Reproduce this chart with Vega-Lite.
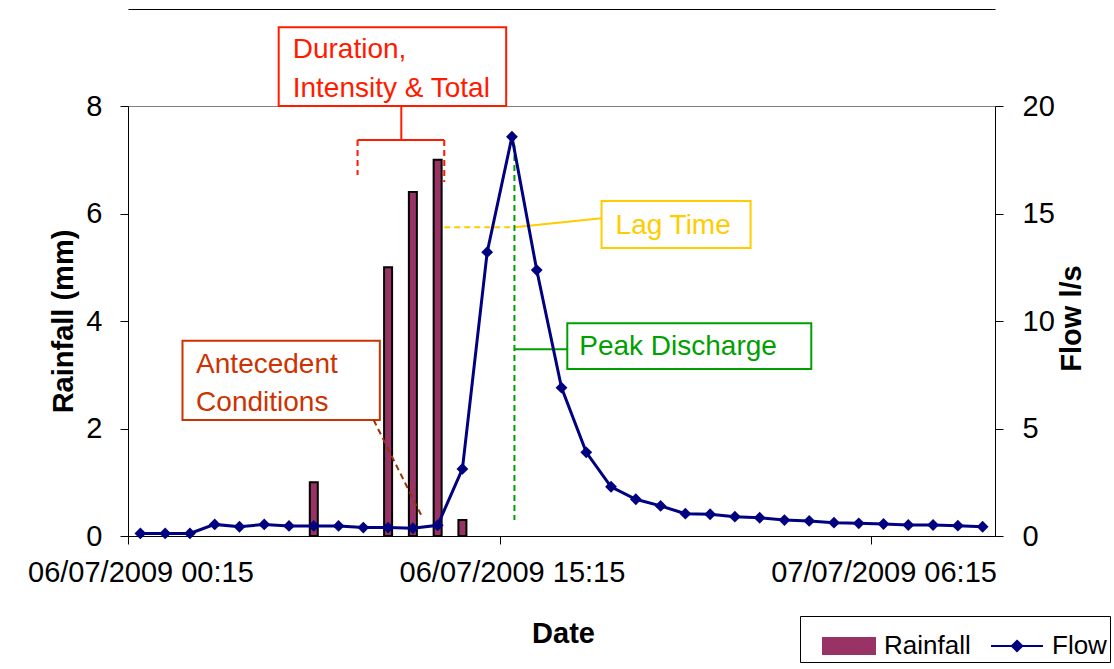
{
  "$schema": "https://vega.github.io/schema/vega-lite/v6.json",
  "autosize": {"type": "none"},
  "padding": {"left": 128, "top": 106, "right": 119, "bottom": 133},
  "width": 867,
  "height": 430,
  "background": "white",
  "config": {
    "font": "Liberation Sans",
    "view": {"stroke": "#808080", "strokeWidth": 1},
    "axis": {"grid": false, "domainColor": "black", "tickColor": "black", "labelColor": "black", "titleColor": "black", "labelFont": "Liberation Sans", "titleFont": "Liberation Sans", "labelFontSize": 29, "titleFontSize": 29, "titleFontWeight": "bold", "tickSize": 8, "domainWidth": 1, "tickWidth": 1, "labelLimit": 0}
  },
  "datasets": {
    "rain": [
      {"date": "2009-07-06T07:15:00Z", "rainfall": 1.0},
      {"date": "2009-07-06T10:15:00Z", "rainfall": 5.0},
      {"date": "2009-07-06T11:15:00Z", "rainfall": 6.4},
      {"date": "2009-07-06T12:15:00Z", "rainfall": 7.0},
      {"date": "2009-07-06T13:15:00Z", "rainfall": 0.3}
    ],
    "flow": [
      {"date": "2009-07-06T00:15:00Z", "flow": 0.12},
      {"date": "2009-07-06T01:15:00Z", "flow": 0.12},
      {"date": "2009-07-06T02:15:00Z", "flow": 0.12},
      {"date": "2009-07-06T03:15:00Z", "flow": 0.54},
      {"date": "2009-07-06T04:15:00Z", "flow": 0.43},
      {"date": "2009-07-06T05:15:00Z", "flow": 0.54},
      {"date": "2009-07-06T06:15:00Z", "flow": 0.47},
      {"date": "2009-07-06T07:15:00Z", "flow": 0.47},
      {"date": "2009-07-06T08:15:00Z", "flow": 0.47},
      {"date": "2009-07-06T09:15:00Z", "flow": 0.39},
      {"date": "2009-07-06T10:15:00Z", "flow": 0.39},
      {"date": "2009-07-06T11:15:00Z", "flow": 0.36},
      {"date": "2009-07-06T12:15:00Z", "flow": 0.50},
      {"date": "2009-07-06T13:15:00Z", "flow": 3.12},
      {"date": "2009-07-06T14:15:00Z", "flow": 13.2},
      {"date": "2009-07-06T15:15:00Z", "flow": 18.57},
      {"date": "2009-07-06T16:15:00Z", "flow": 12.37},
      {"date": "2009-07-06T17:15:00Z", "flow": 6.9},
      {"date": "2009-07-06T18:15:00Z", "flow": 3.89},
      {"date": "2009-07-06T19:15:00Z", "flow": 2.29},
      {"date": "2009-07-06T20:15:00Z", "flow": 1.71},
      {"date": "2009-07-06T21:15:00Z", "flow": 1.40},
      {"date": "2009-07-06T22:15:00Z", "flow": 1.04},
      {"date": "2009-07-06T23:15:00Z", "flow": 1.01},
      {"date": "2009-07-07T00:15:00Z", "flow": 0.90},
      {"date": "2009-07-07T01:15:00Z", "flow": 0.85},
      {"date": "2009-07-07T02:15:00Z", "flow": 0.74},
      {"date": "2009-07-07T03:15:00Z", "flow": 0.70},
      {"date": "2009-07-07T04:15:00Z", "flow": 0.62},
      {"date": "2009-07-07T05:15:00Z", "flow": 0.59},
      {"date": "2009-07-07T06:15:00Z", "flow": 0.56},
      {"date": "2009-07-07T07:15:00Z", "flow": 0.51},
      {"date": "2009-07-07T08:15:00Z", "flow": 0.51},
      {"date": "2009-07-07T09:15:00Z", "flow": 0.48},
      {"date": "2009-07-07T10:15:00Z", "flow": 0.43}
    ]
  },
  "layer": [
    {
      "layer": [
        {
          "data": {"name": "rain"},
          "mark": {"type": "bar", "width": 8, "stroke": "black", "strokeWidth": 2},
          "encoding": {
            "x": {"field": "date", "type": "temporal",
              "scale": {"type": "utc", "nice": false, "padding": 0, "domain": [{"year": 2009, "month": 7, "date": 5, "hours": 23, "minutes": 45, "utc": true}, {"year": 2009, "month": 7, "date": 7, "hours": 10, "minutes": 45, "utc": true}]},
              "axis": {"title": "Date", "values": [{"year": 2009, "month": 7, "date": 5, "hours": 23, "minutes": 45, "utc": true}, {"year": 2009, "month": 7, "date": 6, "hours": 14, "minutes": 45, "utc": true}, {"year": 2009, "month": 7, "date": 7, "hours": 5, "minutes": 45, "utc": true}],
                "labelExpr": "utcFormat(datum.value + 1800000, '%d/%m/%Y %H:%M')",
                "labelOffset": 12.4, "labelFlush": false, "labelOverlap": false, "labelBaseline": "alphabetic", "labelPadding": 37, "labelLimit": 0,
                "titleX": 435, "titleY": 106, "titleBaseline": "alphabetic", "titleAlign": "center"}},
            "y": {"field": "rainfall", "type": "quantitative",
              "scale": {"domain": [0, 8], "nice": false},
              "axis": {"title": "Rainfall (mm)", "values": [0, 2, 4, 6, 8], "labelPadding": 18,
                "titleX": -56, "titleY": 215, "titleAngle": -90, "titleBaseline": "alphabetic", "titleAlign": "center"}},
            "color": {"datum": "Rainfall", "type": "nominal",
              "scale": {"domain": ["Rainfall", "Flow"], "range": ["#993366", "#000080"]},
              "legend": {"title": null, "orient": "none", "legendX": 672, "legendY": 510, "direction": "horizontal",
                "strokeColor": "black", "fillColor": "white", "padding": 3, "symbolOffset": 19,
                "symbolType": "M-1,-0.31H1V0.31H-1Z",
                "symbolSize": 2704, "symbolStrokeWidth": 2, "labelFontSize": 26, "labelFont": "Liberation Sans", "labelColor": "black", "labelOffset": 8, "columnPadding": 0,
                "encode": {"symbols": {"update": {
                  "shape": {"signal": "datum.value === 'Rainfall' ? 'M-1,-0.31H1V0.31H-1Z' : 'M-1,0H1M0,-0.2L0.2,0L0,0.2L-0.2,0Z'"},
                  "fill": {"signal": "datum.value === 'Rainfall' ? '#993366' : '#000080'"},
                  "stroke": {"signal": "datum.value === 'Rainfall' ? 'black' : '#000080'"},
                  "strokeWidth": {"value": 2},
                  "opacity": {"value": 1},
                  "fillOpacity": {"value": 1},
                  "strokeOpacity": {"value": 1}
                }}}}}
          }
        },
        {
          "data": {"values": [{"date": "2009-07-06T05:50:00Z", "date2": "2009-07-06T15:01:00Z", "rainfall": 8.0, "rain2": 9.464}]},
          "mark": {"type": "rect", "fill": "white", "stroke": "#ff1a00", "strokeWidth": 2},
          "encoding": {
            "x": {"field": "date", "type": "temporal", "scale": {"type": "utc"}},
            "x2": {"field": "date2"},
            "y": {"field": "rainfall", "type": "quantitative"},
            "y2": {"field": "rain2"}
          }
        },
        {
          "data": {"values": [{"date": "2009-07-06T06:24:00Z", "rainfall": 8.887, "label": "Duration,"}, {"date": "2009-07-06T06:24:00Z", "rainfall": 8.173, "label": "Intensity & Total"}]},
          "mark": {"type": "text", "align": "left", "baseline": "alphabetic", "fontSize": 28, "font": "Liberation Sans", "color": "#ff1a00"},
          "encoding": {
            "x": {"field": "date", "type": "temporal", "scale": {"type": "utc"}},
            "y": {"field": "rainfall", "type": "quantitative"},
            "text": {"field": "label"}
          }
        },
        {
          "data": {"values": [
            {"date": "2009-07-06T10:47:00Z", "date2": "2009-07-06T10:47:00Z", "rainfall": 8.0, "rain2": 7.367},
            {"date": "2009-07-06T09:01:00Z", "date2": "2009-07-06T12:31:00Z", "rainfall": 7.367, "rain2": 7.367}
          ]},
          "mark": {"type": "rule", "color": "#ff1a00", "strokeWidth": 2},
          "encoding": {
            "x": {"field": "date", "type": "temporal", "scale": {"type": "utc"}},
            "x2": {"field": "date2"},
            "y": {"field": "rainfall", "type": "quantitative"},
            "y2": {"field": "rain2"}
          }
        },
        {
          "data": {"values": [
            {"date": "2009-07-06T09:01:00Z", "date2": "2009-07-06T09:01:00Z", "rainfall": 7.367, "rain2": 6.716},
            {"date": "2009-07-06T12:31:00Z", "date2": "2009-07-06T12:31:00Z", "rainfall": 7.367, "rain2": 6.586}
          ]},
          "mark": {"type": "rule", "color": "#ff1a00", "strokeWidth": 2, "strokeDash": [6, 4]},
          "encoding": {
            "x": {"field": "date", "type": "temporal", "scale": {"type": "utc"}},
            "x2": {"field": "date2"},
            "y": {"field": "rainfall", "type": "quantitative"},
            "y2": {"field": "rain2"}
          }
        },
        {
          "data": {"values": [{"date": "2009-07-06T12:31:00Z", "date2": "2009-07-06T15:21:00Z", "rainfall": 5.743, "rain2": 5.743}]},
          "mark": {"type": "rule", "color": "#ffcc00", "strokeWidth": 2, "strokeDash": [6, 4]},
          "encoding": {
            "x": {"field": "date", "type": "temporal", "scale": {"type": "utc"}},
            "x2": {"field": "date2"},
            "y": {"field": "rainfall", "type": "quantitative"},
            "y2": {"field": "rain2"}
          }
        },
        {
          "data": {"values": [{"date": "2009-07-06T15:21:00Z", "date2": "2009-07-06T18:52:00Z", "rainfall": 5.743, "rain2": 5.911}]},
          "mark": {"type": "rule", "color": "#ffcc00", "strokeWidth": 2},
          "encoding": {
            "x": {"field": "date", "type": "temporal", "scale": {"type": "utc"}},
            "x2": {"field": "date2"},
            "y": {"field": "rainfall", "type": "quantitative"},
            "y2": {"field": "rain2"}
          }
        },
        {
          "data": {"values": [{"date": "2009-07-06T18:52:00Z", "date2": "2009-07-07T00:53:00Z", "rainfall": 5.358, "rain2": 6.233}]},
          "mark": {"type": "rect", "fill": "white", "stroke": "#ffcc00", "strokeWidth": 2},
          "encoding": {
            "x": {"field": "date", "type": "temporal", "scale": {"type": "utc"}},
            "x2": {"field": "date2"},
            "y": {"field": "rainfall", "type": "quantitative"},
            "y2": {"field": "rain2"}
          }
        },
        {
          "data": {"values": [{"date": "2009-07-06T19:26:00Z", "rainfall": 5.613, "label": "Lag Time"}]},
          "mark": {"type": "text", "align": "left", "baseline": "alphabetic", "fontSize": 28, "font": "Liberation Sans", "color": "#ffcc00"},
          "encoding": {
            "x": {"field": "date", "type": "temporal", "scale": {"type": "utc"}},
            "y": {"field": "rainfall", "type": "quantitative"},
            "text": {"field": "label"}
          }
        },
        {
          "data": {"values": [{"date": "2009-07-06T15:21:00Z", "date2": "2009-07-06T15:21:00Z", "rainfall": 7.274, "rain2": 0.298}]},
          "mark": {"type": "rule", "color": "#00a000", "strokeWidth": 2, "strokeDash": [6, 4]},
          "encoding": {
            "x": {"field": "date", "type": "temporal", "scale": {"type": "utc"}},
            "x2": {"field": "date2"},
            "y": {"field": "rainfall", "type": "quantitative"},
            "y2": {"field": "rain2"}
          }
        },
        {
          "data": {"values": [{"date": "2009-07-06T15:21:00Z", "date2": "2009-07-06T17:29:00Z", "rainfall": 3.474, "rain2": 3.474}]},
          "mark": {"type": "rule", "color": "#00a000", "strokeWidth": 2},
          "encoding": {
            "x": {"field": "date", "type": "temporal", "scale": {"type": "utc"}},
            "x2": {"field": "date2"},
            "y": {"field": "rainfall", "type": "quantitative"},
            "y2": {"field": "rain2"}
          }
        },
        {
          "data": {"values": [{"date": "2009-07-06T17:29:00Z", "date2": "2009-07-07T03:20:00Z", "rainfall": 3.107, "rain2": 3.957}]},
          "mark": {"type": "rect", "fill": "white", "stroke": "#00a000", "strokeWidth": 2},
          "encoding": {
            "x": {"field": "date", "type": "temporal", "scale": {"type": "utc"}},
            "x2": {"field": "date2"},
            "y": {"field": "rainfall", "type": "quantitative"},
            "y2": {"field": "rain2"}
          }
        },
        {
          "data": {"values": [{"date": "2009-07-06T17:58:00Z", "rainfall": 3.367, "label": "Peak Discharge"}]},
          "mark": {"type": "text", "align": "left", "baseline": "alphabetic", "fontSize": 28, "font": "Liberation Sans", "color": "#00a000"},
          "encoding": {
            "x": {"field": "date", "type": "temporal", "scale": {"type": "utc"}},
            "y": {"field": "rainfall", "type": "quantitative"},
            "text": {"field": "label"}
          }
        },
        {
          "data": {"values": [{"date": "2009-07-06T01:57:00Z", "date2": "2009-07-06T09:55:00Z", "rainfall": 2.158, "rain2": 3.633}]},
          "mark": {"type": "rect", "fill": "white", "stroke": "#cc3300", "strokeWidth": 2},
          "encoding": {
            "x": {"field": "date", "type": "temporal", "scale": {"type": "utc"}},
            "x2": {"field": "date2"},
            "y": {"field": "rainfall", "type": "quantitative"},
            "y2": {"field": "rain2"}
          }
        },
        {
          "data": {"values": [{"date": "2009-07-06T02:30:00Z", "rainfall": 3.027, "label": "Antecedent"}, {"date": "2009-07-06T02:30:00Z", "rainfall": 2.331, "label": "Conditions"}]},
          "mark": {"type": "text", "align": "left", "baseline": "alphabetic", "fontSize": 28, "font": "Liberation Sans", "color": "#cc3300"},
          "encoding": {
            "x": {"field": "date", "type": "temporal", "scale": {"type": "utc"}},
            "y": {"field": "rainfall", "type": "quantitative"},
            "text": {"field": "label"}
          }
        },
        {
          "data": {"values": [{"date": "2009-07-06T09:40:00Z", "date2": "2009-07-06T11:35:00Z", "rainfall": 2.158, "rain2": 0.391}]},
          "mark": {"type": "rule", "color": "#993300", "strokeWidth": 2, "strokeDash": [6, 4]},
          "encoding": {
            "x": {"field": "date", "type": "temporal", "scale": {"type": "utc"}},
            "x2": {"field": "date2"},
            "y": {"field": "rainfall", "type": "quantitative"},
            "y2": {"field": "rain2"}
          }
        }
      ]
    },
    {
      "data": {"name": "flow"},
      "mark": {"type": "line", "strokeWidth": 3, "point": {"shape": "diamond", "size": 140, "filled": true}},
      "encoding": {
        "x": {"field": "date", "type": "temporal", "scale": {"type": "utc"},
          "axis": {"orient": "top", "offset": 97, "title": null, "labels": false, "ticks": false, "domainColor": "black"}},
        "y": {"field": "flow", "type": "quantitative",
          "scale": {"domain": [0, 20], "nice": false},
          "axis": {"title": "Flow l/s", "orient": "right", "values": [0, 5, 10, 15, 20], "labelPadding": 19,
            "titleX": 85, "titleY": 212, "titleAngle": -90, "titleBaseline": "alphabetic", "titleAlign": "center"}},
        "color": {"datum": "Flow", "type": "nominal",
          "legend": {"title": null, "orient": "none", "legendX": 672, "legendY": 510, "direction": "horizontal",
            "strokeColor": "black", "fillColor": "white", "padding": 3, "symbolOffset": 19,
            "symbolType": "M-1,-0.31H1V0.31H-1Z",
            "symbolSize": 2704, "symbolStrokeWidth": 2, "labelFontSize": 26, "labelFont": "Liberation Sans", "labelColor": "black", "labelOffset": 8, "columnPadding": 0,
            "encode": {"symbols": {"update": {
              "shape": {"signal": "datum.value === 'Rainfall' ? 'M-1,-0.31H1V0.31H-1Z' : 'M-1,0H1M0,-0.2L0.2,0L0,0.2L-0.2,0Z'"},
              "fill": {"signal": "datum.value === 'Rainfall' ? '#993366' : '#000080'"},
              "stroke": {"signal": "datum.value === 'Rainfall' ? 'black' : '#000080'"},
              "strokeWidth": {"value": 2},
              "opacity": {"value": 1},
              "fillOpacity": {"value": 1},
              "strokeOpacity": {"value": 1}
            }}}}}
      }
    }
  ],
  "resolve": {"scale": {"y": "independent"}, "axis": {"x": "independent"}}
}
